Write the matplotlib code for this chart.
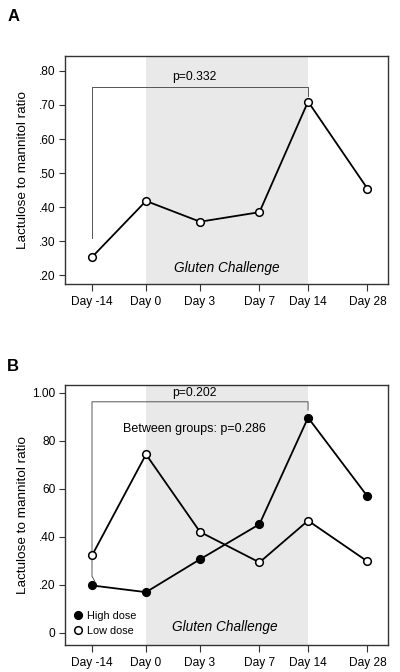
import matplotlib.pyplot as plt

plt.rcParams['font.family'] = ['Liberation Sans', 'DejaVu Sans']

# Data
days = ['Day -14', 'Day 0', 'Day 3', 'Day 7', 'Day 14', 'Day 28']
xpos = [0.5, 1.5, 2.5, 3.6, 4.5, 5.6]   # uneven spacing as in original

ratio_all = [0.253, 0.418, 0.357, 0.385, 0.710, 0.454]
high_dose = [0.197, 0.169, 0.306, 0.452, 0.896, 0.568]
low_dose = [0.322, 0.743, 0.420, 0.293, 0.467, 0.297]

ticks_a = [0.2, 0.3, 0.4, 0.5, 0.6, 0.7, 0.8]
ticklabels_a = ['.20', '.30', '.40', '.50', '.60', '.70', '.80']
ticks_b = [0.0, 0.2, 0.4, 0.6, 0.8, 1.0]
ticklabels_b = ['0', '.20', '.40', '60', '80', '1.00']

line_col = 'black'
frame_col = '#333333'
shade_col = '#e9e9e9'
bracket_col = '#555555'


def style_axes(ax, ylim, yticks, ylabels):
    ax.axvspan(xpos[1], xpos[4], color=shade_col, lw=0, zorder=0)
    ax.set_xlim(0, 5.98)
    ax.set_ylim(*ylim)
    ax.set_xticks(xpos)
    ax.set_xticklabels(days, fontsize=8.6)
    ax.set_yticks(yticks)
    ax.set_yticklabels(ylabels, fontsize=8.6)
    ax.tick_params(axis='x', length=5, width=0.8, color=frame_col, pad=4)
    ax.tick_params(axis='y', length=4, width=0.8, color=frame_col, pad=3)
    for sp in ax.spines.values():
        sp.set_color(frame_col)
        sp.set_linewidth(1.0)
    ax.set_ylabel('Lactulose to mannitol ratio', fontsize=9.7)
    ax.yaxis.set_label_coords(-0.113, 0.5)


fig = plt.figure(figsize=(4, 6.72), dpi=100)

# Panel A
axA = fig.add_axes([0.1625, 0.5774, 0.8075, 0.3393])
style_axes(axA, (0.174, 0.844), ticks_a, ticklabels_a)
axA.plot(xpos, ratio_all, '-o', color=line_col, lw=1.3, ms=5.5,
         mfc='white', mec='black', mew=1.1, zorder=3)
axA.plot([xpos[0], xpos[0], xpos[4], xpos[4]], [0.309, 0.752, 0.752, 0.727],
         color=bracket_col, lw=0.7, zorder=2)
axA.text(2.4, 0.765, 'p=0.332', ha='center', va='bottom', fontsize=8.7)
axA.text(3.0, 0.22, 'Gluten Challenge', ha='center', va='center',
         fontsize=9.8, style='italic')
fig.text(0.018, 0.987, 'A', fontsize=12, fontweight='bold', va='top')

# Panel B
axB = fig.add_axes([0.1625, 0.0402, 0.8075, 0.3869])
style_axes(axB, (-0.051, 1.032), ticks_b, ticklabels_b)
axB.plot(xpos, high_dose, '-o', color=line_col, lw=1.3, ms=5.5,
         mfc='black', mec='black', mew=1.1, zorder=3, label='High dose')
axB.plot(xpos, low_dose, '-o', color=line_col, lw=1.3, ms=5.5,
         mfc='white', mec='black', mew=1.1, zorder=3, label='Low dose')
axB.plot([xpos[0] + 0.05, xpos[0], xpos[0], xpos[4], xpos[4]],
         [0.215, 0.235, 0.962, 0.962, 0.928],
         color=bracket_col, lw=0.7, zorder=2)
axB.text(2.4, 0.975, 'p=0.202', ha='center', va='bottom', fontsize=8.7)
axB.text(2.4, 0.85, 'Between groups: p=0.286', ha='center', va='center',
         fontsize=9)
axB.text(2.95, 0.025, 'Gluten Challenge', ha='center', va='center',
         fontsize=9.8, style='italic')
axB.legend(loc='lower left', frameon=False, fontsize=7.8, handlelength=0.6,
           handletextpad=0.5, labelspacing=0.45, borderaxespad=0.0,
           borderpad=0.0, bbox_to_anchor=(0.03, 0.035))
fig.text(0.018, 0.466, 'B', fontsize=12, fontweight='bold', va='top')

fig.savefig('out.png', dpi=100)
